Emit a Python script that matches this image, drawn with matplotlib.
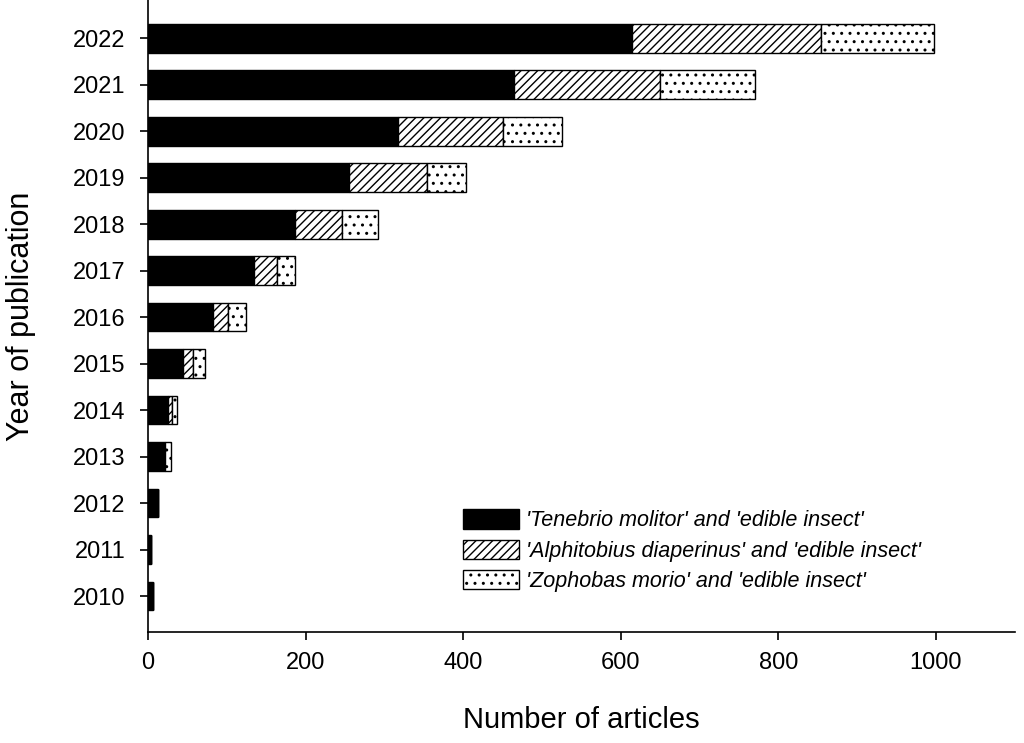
import numpy as np
import matplotlib.pyplot as plt

plt.rcParams['font.family'] = ['Liberation Sans', 'DejaVu Sans']
plt.rcParams['hatch.linewidth'] = 1.0

# ------------------------------------------------------------------ dati
anni = ['2010', '2011', '2012', '2013', '2014', '2015', '2016',
        '2017', '2018', '2019', '2020', '2021', '2022']
tenebrio = [7, 4, 13, 22, 26, 44, 82, 135, 186, 255, 317, 465, 614]
alphitobius = [0, 0, 0, 0, 4, 13, 19, 29, 60, 99, 134, 185, 240]
zophobas = [0, 0, 0, 7, 7, 15, 24, 23, 46, 49, 75, 120, 144]

etichette = ["'Tenebrio molitor' and 'edible insect'",
             "'Alphitobius diaperinus' and 'edible insect'",
             "'Zophobas morio' and 'edible insect'"]

# ---------------------------------------------------------------- figura
fig = plt.figure(figsize=(10.24, 7.43), dpi=100)
ax = fig.add_axes([0.1445, 0.149, 0.8465, 0.851])

y = np.arange(len(anni))
t = np.array(tenebrio)
a = np.array(alphitobius)
z = np.array(zophobas)
h = 0.62

ax.barh(y, t, height=h, color='black', edgecolor='black', lw=1.0,
        label=etichette[0])
ax.barh(y, a, left=t, height=h, color='white', edgecolor='black', lw=1.0,
        hatch='////', label=etichette[1])
ax.barh(y, z, left=t + a, height=h, color='white', edgecolor='black',
        lw=1.0, hatch='..', label=etichette[2])

ax.set_xlim(0, 1100)
ax.set_ylim(-0.78, 12.82)
ax.set_yticks(y)
ax.set_yticklabels(anni)
ax.set_xticks([0, 200, 400, 600, 800, 1000])
ax.tick_params(axis='both', labelsize=17, length=6, width=1.2,
               direction='out')
ax.tick_params(axis='y', pad=10)
ax.tick_params(axis='x', pad=8)
ax.spines['top'].set_visible(False)
ax.spines['right'].set_visible(False)
for s in ('left', 'bottom'):
    ax.spines[s].set_linewidth(1.2)

ax.set_xlabel('Number of articles', fontsize=21, labelpad=23)
ax.set_ylabel('Year of publication', fontsize=22, labelpad=27)

leg = ax.legend(loc='upper left', bbox_to_anchor=(0.341, 0.225),
                frameon=False, handlelength=2.6, handleheight=1.0,
                prop={'style': 'italic', 'size': 15.5},
                labelspacing=0.38, handletextpad=0.35)

fig.savefig('out.png', dpi=100)
